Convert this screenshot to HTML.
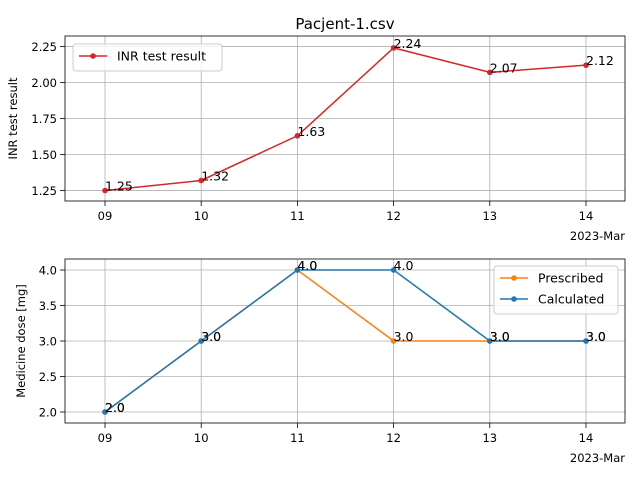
<!DOCTYPE html>
<html><head><meta charset="utf-8"><style>
body{margin:0;background:#fff}
svg{display:block;font-family:"DejaVu Sans","Liberation Sans",sans-serif}
</style></head><body>
<svg id="c" width="640" height="480"></svg>
<script>
const days=["09","10","11","12","13","14"];
const inr=[1.25,1.32,1.63,2.24,2.07,2.12];
const prescribed=[2,3,4,3,3,3];
const calculated=[2,3,4,4,3,3];
const topTicks=[1.25,1.50,1.75,2.00,2.25];
const botTicks=[2.0,2.5,3.0,3.5,4.0];
const NS="http://www.w3.org/2000/svg";
const svg=document.getElementById('c');
function el(t,a,txt){const e=document.createElementNS(NS,t);for(const k in a)e.setAttribute(k,a[k]);if(txt!=null)e.textContent=txt;svg.appendChild(e);return e;}
const L=65,R=625;
const x=i=>105+i*96.2;
function axes(top,bot,ymin,ymax,ticks,fmt,ylabel,name){
  const y=v=>bot-(v-ymin)/(ymax-ymin)*(bot-top);
  days.forEach((d,i)=>{
    let g=el('line',{x1:x(i),x2:x(i),y1:top,y2:bot,stroke:'#b0b0b0','stroke-width':0.8});
    
    el('line',{x1:x(i),x2:x(i),y1:bot,y2:bot+5,stroke:'#000','stroke-width':0.8});
    let t=el('text',{x:x(i),y:bot+19,'font-size':11.5,'text-anchor':'middle'},d);
    
  });
  ticks.forEach(v=>{
    let g=el('line',{x1:L,x2:R,y1:y(v),y2:y(v),stroke:'#b0b0b0','stroke-width':0.8});
    
    el('line',{x1:L-5,x2:L,y1:y(v),y2:y(v),stroke:'#000','stroke-width':0.8});
    let t=el('text',{x:L-8,y:y(v)+4.5,'font-size':11.5,'text-anchor':'end'},fmt(v));
    
  });
  let f=el('rect',{x:L,y:top,width:R-L,height:bot-top,fill:'none',stroke:'#000','stroke-width':0.8});
  
  let yl=el('text',{x:0,y:0,'font-size':11.5,'text-anchor':'middle',transform:`translate(${name==='top'?17:25},${(top+bot)/2}) rotate(-90)`},ylabel);
  
  let o=el('text',{x:R,y:bot+39,'font-size':11.5,'text-anchor':'end'},'2023-Mar');
  
  return y;
}
function series(vals,y,color,name,fmt){
  let p=el('polyline',{points:vals.map((v,i)=>x(i)+','+y(v)).join(' '),fill:'none',stroke:color,'stroke-width':1.5});
  
  vals.forEach((v,i)=>{
    let c=el('circle',{cx:x(i),cy:y(v),r:2.8,fill:color});
    
    let t=el('text',{x:x(i),y:y(v),'font-size':12.5},fmt(v));
    
  });
}
function legend(x0,y0,w,entries,name){
  let b=el('rect',{x:x0,y:y0,width:w,height:entries.length*21+6,rx:3,fill:'#fff','fill-opacity':0.8,stroke:'#ccc'});
  
  entries.forEach((e,i)=>{
    const yy=y0+12+i*21;
    el('line',{x1:x0+6,x2:x0+34,y1:yy,y2:yy,stroke:e[1],'stroke-width':1.5});
    el('circle',{cx:x0+20,cy:yy,r:2.8,fill:e[1]});
    let t=el('text',{x:x0+44,y:yy+4.5,'font-size':12.5},e[0]);
    
  });
}
let ti=el('text',{x:345,y:29,'font-size':15,'text-anchor':'middle'},'Pacjent-1.csv');

const yT=axes(36,201,1.1776,2.3224,topTicks,v=>v.toFixed(2),'INR test result','top');
series(inr,yT,'#d62728','inr',v=>v.toFixed(2));
legend(73,44,149,[['INR test result','#d62728']],'top-legend');
const yB=axes(259,423,1.845,4.155,botTicks,v=>v.toFixed(1),'Medicine dose [mg]','bottom');
series(prescribed,yB,'#ff7f0e','prescribed',v=>v.toFixed(1));
series(calculated,yB,'#1f77b4','calculated',v=>v.toFixed(1));
legend(494,266,124,[['Prescribed','#ff7f0e'],['Calculated','#1f77b4']],'bottom-legend');
</script>
</body></html>
